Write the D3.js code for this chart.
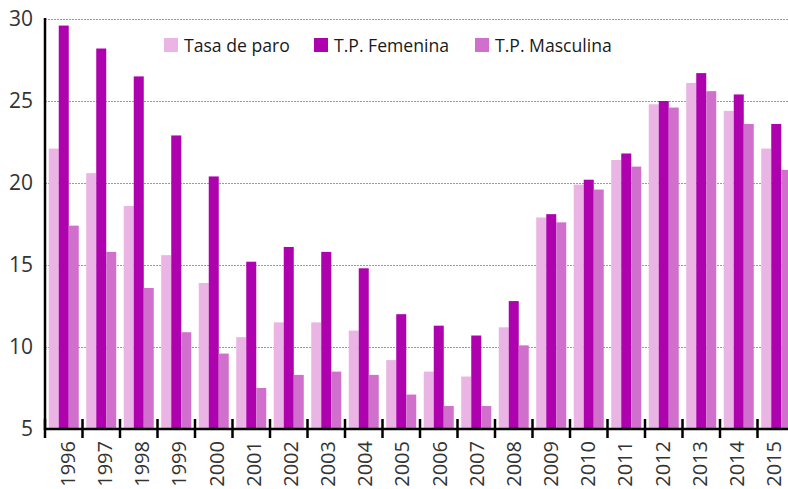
<!DOCTYPE html>
<html>
<head>
<meta charset="utf-8">
<script src="https://cdn.jsdelivr.net/npm/d3@7"></script>
<style>
  html, body { margin: 0; padding: 0; background: #fff; }
  svg { display: block; }
  text { font-family: "Open Sans", "Noto Sans", sans-serif; }
</style>
</head>
<body>
<div id="chart"></div>
<script>
const years = ["1996","1997","1998","1999","2000","2001","2002","2003","2004","2005","2006","2007","2008","2009","2010","2011","2012","2013","2014","2015"];
const seriesNames = ["Tasa de paro", "T.P. Femenina", "T.P. Masculina"];
const tasaParo   = [22.1, 20.6, 18.6, 15.6, 13.9, 10.6, 11.5, 11.5, 11.0, 9.2, 8.5, 8.2, 11.2, 17.9, 19.9, 21.4, 24.8, 26.1, 24.4, 22.1];
const tpFemenina = [29.6, 28.2, 26.5, 22.9, 20.4, 15.2, 16.1, 15.8, 14.8, 12.0, 11.3, 10.7, 12.8, 18.1, 20.2, 21.8, 25.0, 26.7, 25.4, 23.6];
const tpMasculina= [17.4, 15.8, 13.6, 10.9, 9.6, 7.5, 8.3, 8.5, 8.3, 7.1, 6.4, 6.4, 10.1, 17.6, 19.6, 21.0, 24.6, 25.6, 23.6, 20.8];
const yTicks = [5, 10, 15, 20, 25, 30];
const colors = ["#EAB4E4", "#AD02AD", "#D170CC"];

(function () {
const W = 788, H = 489;
const svg = d3.select("#chart").append("svg").attr("width", W).attr("height", H);

const mLeft = 45, mBottom = 429, mTop = 19;
const x0 = d3.scaleBand().domain(years).range([mLeft, mLeft + 750]).paddingInner(0.2).paddingOuter(0.1);
const x1 = d3.scaleBand().domain(seriesNames).range([0, x0.bandwidth()]);
const y = d3.scaleLinear().domain([5, 30]).range([mBottom, mTop]);
const color = d3.scaleOrdinal().domain(seriesNames).range(colors);
// year labels sit on a slightly tighter spacing than the bands
const xLabel = d3.scalePoint().domain(years).range([68, 774]);

// gridlines
svg.append("g").selectAll("line").data(yTicks.filter(t => t > 5)).join("line")
  .attr("x1", mLeft).attr("x2", W)
  .attr("y1", d => Math.round(y(d)) + 0.5).attr("y2", d => Math.round(y(d)) + 0.5)
  .attr("stroke", "#9a9a9a").attr("stroke-width", 1).attr("stroke-dasharray", "2,1");

// bars
const seriesData = [tasaParo, tpFemenina, tpMasculina];
const groups = svg.append("g").selectAll("g").data(years).join("g")
  .attr("transform", d => `translate(${x0(d)},0)`);
groups.selectAll("rect").data((d, i) => seriesNames.map((s, k) => ({s, v: seriesData[k][i]}))).join("rect")
  .attr("x", d => x1(d.s)).attr("width", x1.bandwidth())
  .attr("y", d => y(d.v)).attr("height", d => y(5) - y(d.v))
  .attr("fill", d => color(d.s));

// y axis
const yAxis = d3.axisLeft(y).tickValues(yTicks).tickSize(0).tickPadding(12);
const gy = svg.append("g").attr("transform", `translate(${mLeft},0)`).call(yAxis);
gy.select(".domain").attr("stroke", "#000").attr("stroke-width", 2.5).attr("d", `M0,${mTop - 1}V${mBottom + 1}`);
gy.selectAll("text").attr("font-size", 21).attr("fill", "#333").attr("font-family", "'Open Sans', sans-serif");

// x axis (domain line) + year labels
const xAxis = d3.axisBottom(x0).tickSize(0).tickPadding(0).tickFormat("");
const gx = svg.append("g").attr("transform", `translate(0,${mBottom})`).call(xAxis);
gx.select(".domain").attr("stroke", "#000").attr("stroke-width", 2.5).attr("d", `M${mLeft - 1},0H${W}`);
svg.append("g").selectAll("text").data(years).join("text")
  .attr("transform", d => `translate(${xLabel(d) + 7},${mBottom + 12}) rotate(-90)`)
  .attr("text-anchor", "end")
  .attr("font-size", 20).attr("fill", "#333")
  .text(d => d);

// band boundary tick marks
const step = x0.step();
const boundaries = d3.range(years.length + 1).map(i => x0(years[0]) - step * x0.paddingOuter() + i * step);
svg.append("g").selectAll("line").data(boundaries).join("line")
  .attr("x1", d => d).attr("x2", d => d)
  .attr("y1", mBottom - 10).attr("y2", mBottom + 9)
  .attr("stroke", "#000").attr("stroke-width", 2.5);

// legend
const legendX = [164, 314, 475];
const lg = svg.append("g").selectAll("g").data(seriesNames).join("g")
  .attr("transform", (d, i) => `translate(${legendX[i]},38)`);
lg.append("rect").attr("width", 14).attr("height", 14).attr("fill", d => color(d));
lg.append("text").attr("x", 20).attr("y", 14).attr("font-size", 17.6).attr("fill", "#1a1a1a").text(d => d);
})();
</script>
</body>
</html>
